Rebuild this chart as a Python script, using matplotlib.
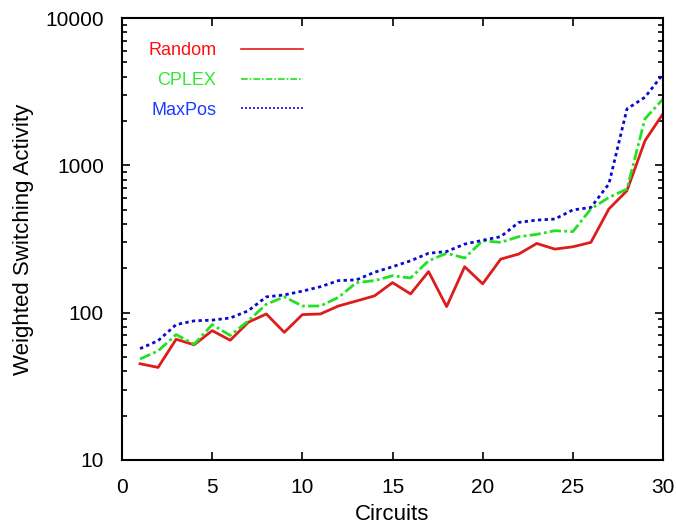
import matplotlib
matplotlib.use("Agg")
import matplotlib.pyplot as plt
from matplotlib.ticker import LogLocator, NullFormatter, FixedLocator

plt.rcParams["font.family"] = ["Liberation Sans", "DejaVu Sans"]

circuits = list(range(1, 31))
random_vals = [45, 42.5, 66, 60.5, 75.5, 65, 86, 98, 73.5, 97,
               98, 111, 120, 130, 160, 134, 190, 110, 205, 157,
               231, 250, 295, 270, 280, 300, 506, 673, 1470, 2240]
cplex_vals = [48.5, 55, 71, 61, 83, 70, 88, 114, 128, 111,
              111, 127, 160, 165, 178, 172, 225, 253, 235, 308,
              300, 328, 340, 360, 355, 506, 606, 690, 2070, 2820]
maxpos_vals = [57, 64.5, 83, 88, 89, 92, 103, 128, 132, 140,
               150, 165, 167, 188, 205, 225, 253, 260, 292, 310,
               328, 410, 425, 432, 498, 518, 748, 2415, 2900, 4160]

fig = plt.figure(figsize=(6.76, 5.30), dpi=100)
ax = fig.add_axes([0.1805, 0.1321, 0.8003, 0.8339])

ax.plot(circuits, random_vals, color="#dd1c1c", lw=2.0, ls="-", label="Random")
ax.plot(circuits, cplex_vals, color="#22e022", lw=2.0, ls=(0, (4, 1.2, 1, 1.2)), label="CPLEX")
ax.plot(circuits, maxpos_vals, color="#0a0acc", lw=2.0, ls=(0, (1.2, 1.2)), label="MaxPos")

ax.set_yscale("log")
ax.set_xlim(0, 30)
ax.set_ylim(10, 10000)
ax.xaxis.set_major_locator(FixedLocator([0, 5, 10, 15, 20, 25, 30]))
ax.yaxis.set_major_locator(FixedLocator([10, 100, 1000, 10000]))
ax.set_yticklabels(["10", "100", "1000", "10000"])
ax.yaxis.set_minor_locator(LogLocator(base=10, subs=range(2, 10)))
ax.yaxis.set_minor_formatter(NullFormatter())

ax.tick_params(which="both", direction="in", top=True, right=True, width=1.2,
               labelsize=15, pad=13, colors="black")
ax.tick_params(which="major", length=6)
ax.tick_params(which="minor", length=3.5)
for sp in ax.spines.values():
    sp.set_linewidth(1.5)

ax.set_xlabel("Circuits", fontsize=16, labelpad=5)
ax.set_ylabel("Weighted Switching Activity", fontsize=16, labelpad=8)

leg = ax.legend(loc="upper left", markerfirst=False, frameon=False, fontsize=13,
                handlelength=3.4, handletextpad=1.4, labelspacing=0.7,
                labelcolor=["#ff1010", "#33e833", "#1a3cff"],
                bbox_to_anchor=(0.018, 0.982))
for line in leg.get_lines():
    line.set_linewidth(1.2)

fig.savefig("out.png", dpi=100)
